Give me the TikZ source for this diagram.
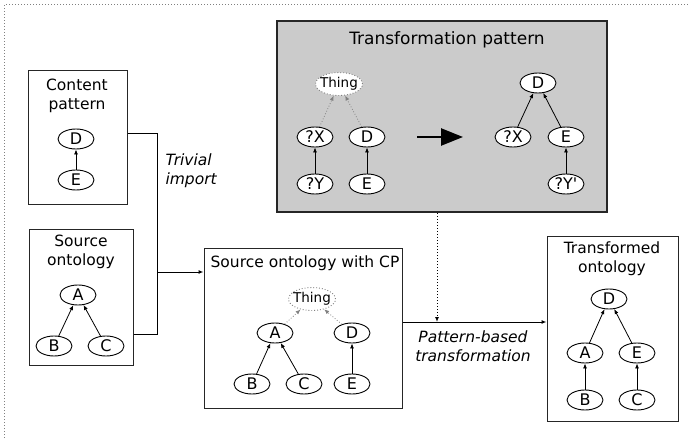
\documentclass[tikz,border=0pt]{standalone}
\usepackage{fontspec}
\setmainfont{DejaVu Sans}
\usetikzlibrary{shapes.geometric,arrows.meta,positioning}

\definecolor{panelgray}{HTML}{CBCBCB}

\tikzset{
  cls/.style={ellipse,draw,fill=white,line width=0.9pt,minimum width=36pt,minimum height=20pt,inner sep=0pt,font=\fontsize{16}{16}\selectfont},
  topcls/.style={cls,draw=gray,dotted,minimum width=47pt,minimum height=23pt,inner xsep=-2.5pt,inner ysep=0pt,font=\fontsize{13.5}{13.5}\selectfont},
  isa/.style={line width=0.8pt,-{Latex[length=5pt,width=4pt]}},
  isadot/.style={isa,gray,dotted},
  panel/.style={draw=black!85,line width=1pt,inner sep=0pt},
  ttl/.style={font=\fontsize{15.5}{19}\selectfont,align=center},
  lbl/.style={font=\fontsize{15.5}{19}\selectfont\itshape,align=left},
  flow/.style={line width=1pt,-{Latex[length=5pt,width=4pt]}},
}

\begin{document}
\begin{tikzpicture}[x=1pt,y=-1pt]
  \useasboundingbox (0,0) rectangle (690,438);

  % outer frame
  \draw[gray,dotted,line width=1pt] (4,438) -- (4,5) -- (690,5);

  % panels
  \node[panel,minimum width=99pt,minimum height=134pt] (cpbox) at (77.5,138) {};
  \node[panel,minimum width=104pt,minimum height=135pt] (sobox) at (81,297.5) {};
  \node[panel,fill=panelgray,line width=2pt,minimum width=330pt,minimum height=191pt] (tpbox) at (442,116.5) {};
  \node[panel,minimum width=198pt,minimum height=159pt] (wcbox) at (303,328.5) {};
  \node[panel,minimum width=131pt,minimum height=184pt] (tobox) at (612.5,329) {};

  \node[ttl] (cpttl) at (77,96) {Content\\pattern};
  \node[ttl] (sottl) at (81,252) {Source\\ontology};
  \node[ttl,font=\fontsize{17}{19}\selectfont] (tpttl) at (447,40) {Transformation pattern};
  \node[ttl] (wcttl) at (305,263) {Source ontology with CP};
  \node[ttl] (tottl) at (612,259) {Transformed\\ontology};

  % content pattern
  \node[cls] (cpD) at (76,139) {D};
  \node[cls] (cpE) at (76,180) {E};
  \draw[isa] (cpE) -- (cpD);

  % source ontology
  \node[cls] (soA) at (78,295) {A};
  \node[cls] (soB) at (54,346) {B};
  \node[cls] (soC) at (106,346) {C};
  \draw[isa] (soB) -- (soA);
  \draw[isa] (soC) -- (soA);

  % transformation pattern
  \node[topcls] (tpT) at (339,84) {Thing};
  \node[cls] (tpX) at (315,137) {?X};
  \node[cls] (tpD) at (367,137) {D};
  \node[cls] (tpY) at (315,184) {?Y};
  \node[cls] (tpE) at (367,184) {E};
  \draw[isadot] (tpX) -- (tpT);
  \draw[isadot] (tpD) -- (tpT);
  \draw[isa] (tpY) -- (tpX);
  \draw[isa] (tpE) -- (tpD);

  \coordinate (bigL) at (417,137);
  \coordinate (bigR) at (463,137);
  \draw[line width=2.5pt,-{Triangle[length=22pt,width=17pt]}] (bigL) -- (bigR);

  \node[cls] (trD) at (538,83) {D};
  \node[cls] (trX) at (513,137) {?X};
  \node[cls] (trE) at (566,137) {E};
  \node[cls] (trY) at (566,184) {?Y\textquotesingle};
  \draw[isa] (trX) -- (trD);
  \draw[isa] (trE) -- (trD);
  \draw[isa] (trY) -- (trE);

  % source ontology with CP
  \node[topcls] (wcT) at (312,299) {Thing};
  \node[cls] (wcA) at (275,333) {A};
  \node[cls] (wcD) at (352,333) {D};
  \node[cls] (wcB) at (252,384) {B};
  \node[cls] (wcC) at (304,384) {C};
  \node[cls] (wcE) at (352,384) {E};
  \draw[isadot] (wcA) -- (wcT);
  \draw[isadot] (wcD) -- (wcT);
  \draw[isa] (wcB) -- (wcA);
  \draw[isa] (wcC) -- (wcA);
  \draw[isa] (wcE) -- (wcD);

  % transformed ontology
  \node[cls] (toD) at (609,299) {D};
  \node[cls] (toA) at (585,353) {A};
  \node[cls] (toE) at (637,353) {E};
  \node[cls] (toB) at (585,400) {B};
  \node[cls] (toC) at (637,400) {C};
  \draw[isa] (toA) -- (toD);
  \draw[isa] (toE) -- (toD);
  \draw[isa] (toB) -- (toA);
  \draw[isa] (toC) -- (toE);

  % trivial import
  \coordinate (join) at (157,272);
  \draw[line width=1pt] ([yshift=4pt]cpbox.east) -| (join);
  \draw[line width=1pt] ([yshift=-36.5pt]sobox.east) -| (join);
  \draw[flow] (join) -- (wcbox.west |- join);
  \node[lbl,anchor=west] (imp) at (162,171) {Trivial\\import};

  % pattern-based transformation
  \coordinate (meet) at (437,322);
  \draw[flow] (wcbox.east |- meet) -- (tobox.west |- meet);
  \draw[flow,dotted] ([xshift=-5pt]tpbox.south) -- (meet);
  \node[lbl,align=center] (pbt) at (473,346) {Pattern-based\\transformation};
\end{tikzpicture}
\end{document}
